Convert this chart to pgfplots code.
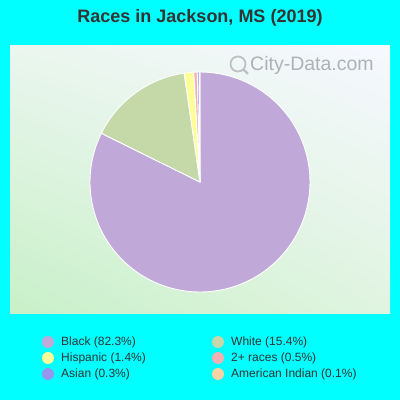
\documentclass[border=0pt]{standalone}
\usepackage{pgfplots}
\pgfplotsset{compat=1.18}
\usetikzlibrary{shadings}
\usepackage{fontspec}
\setmainfont{Liberation Sans}
\definecolor{bg}{RGB}{0,255,255}
\definecolor{cBlack}{RGB}{192,168,216}
\definecolor{cWhite}{RGB}{196,216,168}
\definecolor{cHisp}{RGB}{255,255,153}
\definecolor{cTwo}{RGB}{244,176,176}
\definecolor{cAsian}{RGB}{150,150,238}
\definecolor{cAmInd}{RGB}{250,212,164}
\definecolor{txt}{RGB}{51,51,51}
\definecolor{wm}{RGB}{172,178,182}
\definecolor{gLL}{RGB}{200,240,200}
\definecolor{gUR}{RGB}{246,248,255}
\definecolor{gUL}{RGB}{234,246,238}
\definecolor{gLR}{RGB}{224,244,224}
\newcommand\slice[3]{%
  \pgfmathsetmacro\sa{90-3.6*#1}%
  \pgfmathsetmacro\sb{90-3.6*(#1+#2)}%
  \addplot[fill=#3, draw=white, line width=0.9pt, domain=\sa:\sb, samples=120] ({cos(x)},{sin(x)}) -- (axis cs:0,0) -- cycle;%
}
\begin{document}
\begin{tikzpicture}[x=1pt,y=1pt]
\fill[bg] (0,0) rectangle (400,400);
\shade[lower left=gLL, upper right=gUR, upper left=gUL, lower right=gLR]
  (10,86) rectangle (390,354);
\node[font=\fontsize{18}{21}\selectfont\bfseries, text=txt] at (200,382) {Races in Jackson, MS (2019)};
\begin{axis}[at={(200pt,218pt)}, anchor=origin, scale only axis, width=220pt, height=220pt,
  xmin=-1, xmax=1, ymin=-1, ymax=1, hide axis, clip=false]
% cumulative start (%), share (%), colour
\slice{0}{82.3}{cBlack}
\slice{82.3}{15.4}{cWhite}
\slice{97.7}{1.4}{cHisp}
\slice{99.1}{0.5}{cTwo}
\slice{99.6}{0.3}{cAsian}
\slice{99.9}{0.1}{cAmInd}
\end{axis}
\draw[wm!80, line width=1.8pt] (238,336) circle (7.5);
\draw[wm!80, line width=2.4pt] (243.5,330.5) -- (248,326);
\node[anchor=west, font=\fontsize{19.5}{22}\selectfont, text=wm, inner sep=0pt] at (250,334.5) {City-Data.com};
\begin{scope}[font=\fontsize{12}{14}\selectfont]
\foreach \c/\t/\x/\y in {cBlack/Black (82.3\%)/48/58, cHisp/Hispanic (1.4\%)/48/42, cAsian/Asian (0.3\%)/48/26,
  cWhite/White (15.4\%)/218/58, cTwo/2+ races (0.5\%)/218/42, cAmInd/American Indian (0.1\%)/218/26}{
  \fill[\c] (\x,\y) circle (6);
  \node[anchor=west, text=txt, inner sep=0pt] at (\x+13,\y) {\t};
}
\end{scope}
\end{tikzpicture}
\end{document}
